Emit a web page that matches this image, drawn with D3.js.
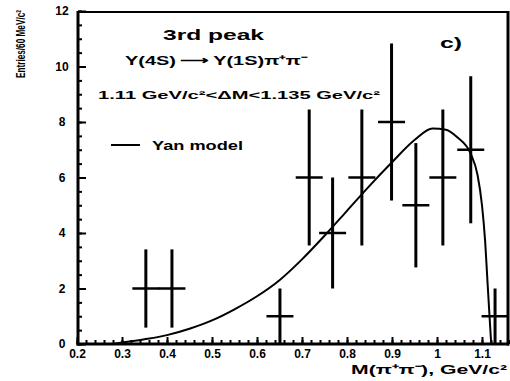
<!DOCTYPE html>
<html><head><meta charset="utf-8">
<script src="https://cdn.jsdelivr.net/npm/d3@7"></script>
<style>body{margin:0;background:#fff}svg text{font-family:"Liberation Sans",Arial,sans-serif;font-weight:bold;fill:#000}</style>
</head><body><svg id="c" width="510" height="381"></svg>
<script>
// ---- data ----
const binCenters = [0.353, 0.411, 0.651, 0.716, 0.768, 0.833, 0.899, 0.953, 1.013, 1.075, 1.129];
const entries    = [2, 2, 1, 6, 4, 6, 8, 5, 6, 7, 1];
const entryErr   = [1.41, 1.41, 1.0, 2.45, 2.0, 2.45, 2.83, 2.24, 2.45, 2.65, 1.0];
const binHalfWidth = 0.03;

const yanX = [0.28, 0.30, 0.35, 0.40, 0.45, 0.50, 0.55, 0.60, 0.65, 0.70, 0.75, 0.80, 0.85, 0.90, 0.95, 0.99, 1.02, 1.045, 1.075, 1.09, 1.10, 1.107, 1.112, 1.116, 1.119, 1.1205];
const yanY = [0.0, 0.05, 0.17, 0.32, 0.55, 0.85, 1.25, 1.72, 2.3, 3.05, 3.9, 4.8, 5.7, 6.55, 7.35, 7.77, 7.72, 7.45, 6.85, 6.1, 5.0, 3.7, 2.3, 1.2, 0.4, 0.0];

const xMajorTicks = [0.2, 0.3, 0.4, 0.5, 0.6, 0.7, 0.8, 0.9, 1.0, 1.1];
const xTickLabels = ["0.2", "0.3", "0.4", "0.5", "0.6", "0.7", "0.8", "0.9", "1", "1.1"];
const yMajorTicks = [0, 2, 4, 6, 8, 10, 12];
const yTickLabels = ["0", "2", "4", "6", "8", "10", "12"];

// ---- drawing ----
const svg = d3.select("#c");
const x = d3.scaleLinear().domain([0.2, 1.16]).range([77, 509]);
const y = d3.scaleLinear().domain([0, 12]).range([344, 11]);

const xMinor = d3.range(0.2, 1.161, 0.02);
const yMinor = d3.range(0, 12.01, 0.5);

// minor ticks
svg.append("g").attr("transform", "translate(0,344)")
  .call(d3.axisBottom(x).tickValues(xMinor).tickSize(-4).tickFormat(""))
  .call(g => { g.select(".domain").remove(); g.selectAll("line").attr("stroke-width", 2); });
svg.append("g").attr("transform", "translate(78,0)")
  .call(d3.axisLeft(y).tickValues(yMinor).tickSize(-4).tickFormat(""))
  .call(g => { g.select(".domain").remove(); g.selectAll("line").attr("stroke-width", 2); });

// major ticks with labels
svg.append("g").attr("transform", "translate(0,344)")
  .call(d3.axisBottom(x).tickValues(xMajorTicks).tickSize(-7).tickPadding(4)
        .tickFormat((d, i) => xTickLabels[i]))
  .call(g => { g.select(".domain").remove(); g.selectAll("line").attr("stroke-width", 2);
               g.selectAll("text").attr("font-size", 12).attr("font-family", null).attr("dy", "0.8em"); });
svg.append("g").attr("transform", "translate(78,0)")
  .call(d3.axisLeft(y).tickValues(yMajorTicks).tickSize(-8).tickPadding(0)
        .tickFormat((d, i) => yTickLabels[i]))
  .call(g => { g.select(".domain").remove(); g.selectAll("line").attr("stroke-width", 2);
               g.selectAll("text").attr("font-size", 12).attr("font-family", null)
                 .attr("text-anchor", "middle").attr("x", -16); });

// frame
const fr = svg.append("g").attr("stroke", "#000").attr("fill", "none");
fr.append("line").attr("x1", 78).attr("x2", 78).attr("y1", 11).attr("y2", 345.5).attr("stroke-width", 3);
fr.append("line").attr("x1", 76.5).attr("x2", 509).attr("y1", 344).attr("y2", 344).attr("stroke-width", 3);
fr.append("line").attr("x1", 78).attr("x2", 509).attr("y1", 12).attr("y2", 12).attr("stroke-width", 2);
fr.append("line").attr("x1", 508).attr("x2", 508).attr("y1", 11).attr("y2", 345.5).attr("stroke-width", 3);

// Yan model curve
const line = d3.line().x(d => x(d[0])).y(d => y(d[1])).curve(d3.curveMonotoneX);
svg.append("path").datum(yanX.map((v, i) => [v, yanY[i]]))
  .attr("d", line).attr("fill", "none").attr("stroke", "#000").attr("stroke-width", 2);

// error bars
const pts = binCenters.map((c, i) => ({c, v: entries[i], e: entryErr[i]}));
const eb = svg.append("g").attr("stroke", "#000");
eb.selectAll(".v").data(pts).join("line")
  .attr("x1", d => x(d.c)).attr("x2", d => x(d.c))
  .attr("y1", d => y(Math.max(0, d.v - d.e))).attr("y2", d => y(d.v + d.e))
  .attr("stroke-width", 3);
eb.selectAll(".h").data(pts).join("line")
  .attr("x1", d => x(d.c - binHalfWidth)).attr("x2", d => Math.min(x(d.c + binHalfWidth), 507))
  .attr("y1", d => y(d.v)).attr("y2", d => y(d.v))
  .attr("stroke-width", 2.5);

// texts
function txt(s, xx, yy, size, len, anchor) {
  const t = svg.append("text").attr("x", xx).attr("y", yy).attr("font-size", size)
    .attr("text-anchor", anchor || "start").text(s);
  if (len) t.attr("textLength", len).attr("lengthAdjust", "spacingAndGlyphs");
  return t;
}
txt("3rd peak", 163, 40, 15, 101);
txt("Υ(4S)\u2009⟶\u2009Υ(1S)π⁺π⁻", 125, 65, 13, 182);
txt("1.11 GeV/c²<ΔM<1.135 GeV/c²", 98, 99, 11, 282);
txt("c)", 440, 48, 14, 22);
txt("Yan model", 152, 150, 13, 91);
svg.append("line").attr("x1", 111).attr("x2", 140).attr("y1", 145).attr("y2", 145)
  .attr("stroke", "#000").attr("stroke-width", 2);

txt("M(π⁺π⁻), GeV/c²", 507, 374, 13, 156, "end");

// rotated y title, horizontally compressed by a transform
const yt = svg.append("text").attr("text-anchor", "middle").attr("font-size", 13)
  .text("Entries/60 MeV/c²");
const natural = yt.node().getComputedTextLength();
const sx = 68 / natural;
yt.attr("transform", `translate(25,44) rotate(-90) scale(${sx},1)`);
</script></body></html>
